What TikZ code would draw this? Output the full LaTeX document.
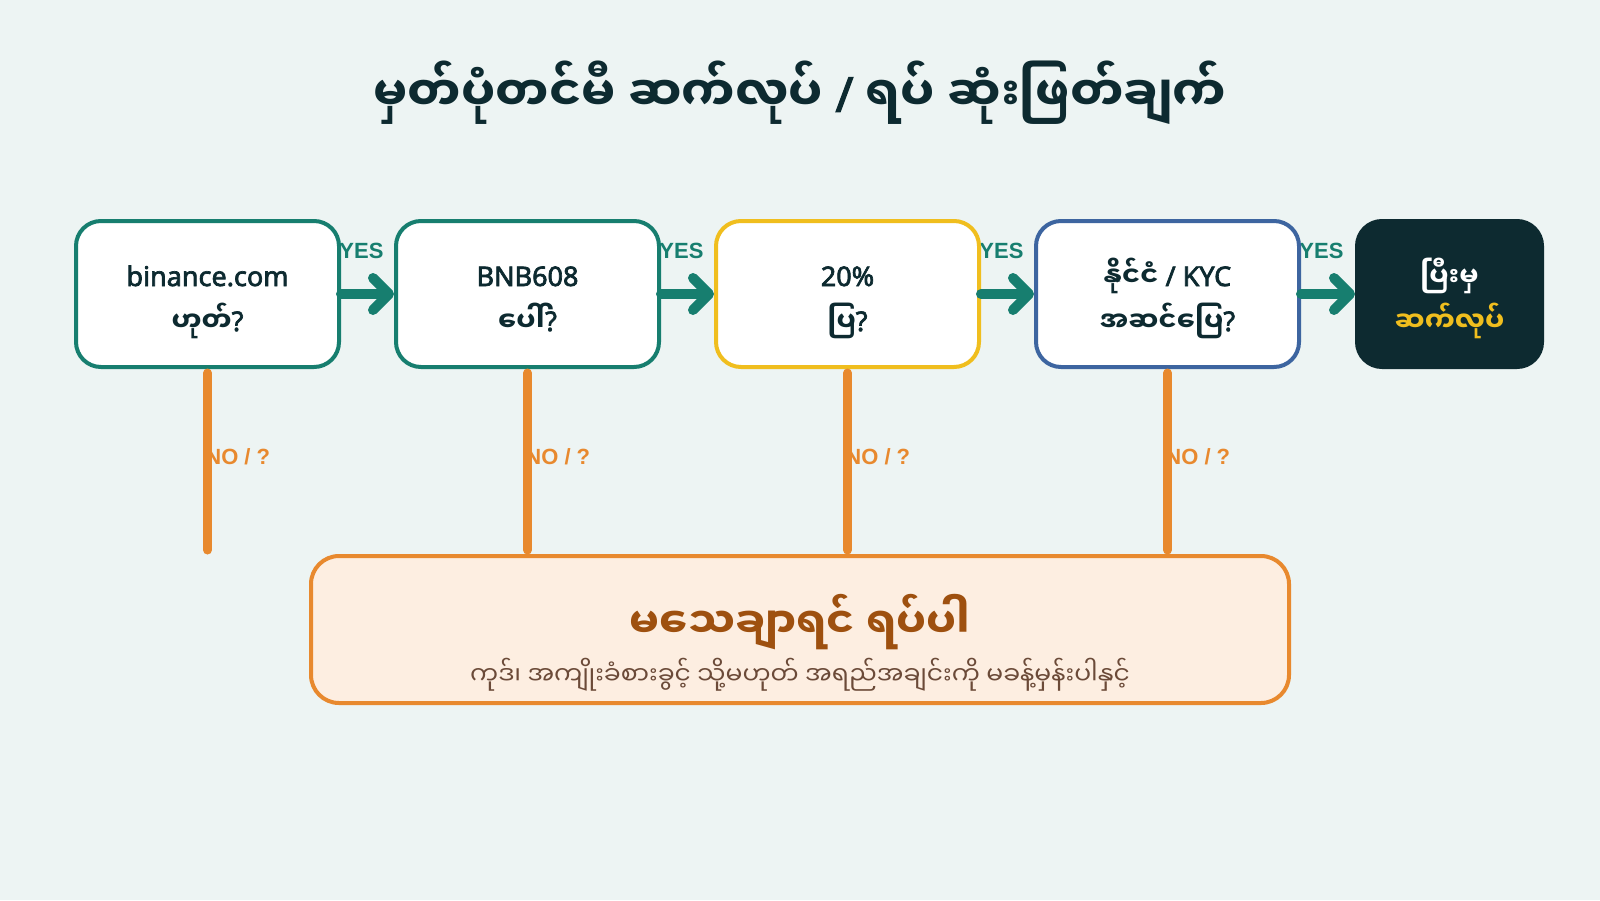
\documentclass[tikz,border=0pt]{standalone}
\usepackage{fontspec}
\setmainfont{Noto Sans}[BoldFont={Noto Sans}, BoldFeatures={FakeBold=2.5}]
\newfontfamily\mmfont[Script=Myanmar]{Noto Sans Myanmar UI}
\newfontfamily\tagfont{Liberation Sans}
\usetikzlibrary{arrows.meta}
\definecolor{pagebg}{HTML}{EDF4F3}
\definecolor{inkdark}{HTML}{0D2A30}
\definecolor{stepteal}{HTML}{177E6F}
\definecolor{stepyellow}{HTML}{F0BE1E}
\definecolor{stepblue}{HTML}{3D65A0}
\definecolor{stoporange}{HTML}{E8892E}
\definecolor{stoppeach}{HTML}{FDEEE1}
\definecolor{stopbrown}{HTML}{9E500F}
\definecolor{subbrown}{HTML}{6B4A38}

\begin{document}
\begin{tikzpicture}[
        x=0.5pt, y=-0.5pt,
        heading/.style={
            font=\mmfont\bfseries\fontsize{24}{30}\selectfont,
            text=inkdark,
        },
        stepbox/.style={
            rectangle,
            rounded corners=12.5pt,
            draw,
            line width=2pt,
            fill=white,
            minimum width=131.5pt,
            minimum height=73pt,
        },
        steptext/.style={
            text height=10pt,
            text depth=4pt,
            text=inkdark,
            font=\bfseries\fontsize{13.5}{16}\selectfont,
        },
        steptop/.style={
            steptext,
            yshift=7pt,
        },
        stepbot/.style={
            steptext,
            yshift=-15.5pt,
        },
        donebox/.style={
            stepbox,
            draw=inkdark,
            fill=inkdark,
            minimum width=92.5pt,
        },
        stopbox/.style={
            rectangle,
            rounded corners=14pt,
            draw=stoporange,
            line width=2pt,
            fill=stoppeach,
            minimum width=489pt,
            minimum height=73.5pt,
        },
        yestag/.style={
            anchor=west,
            inner sep=0pt,
            text=stepteal,
            font=\tagfont\bfseries\fontsize{11}{13}\selectfont
        },
        notag/.style={
            yestag,
            text=stoporange,
        },
        yesarrow/.style={
            -{Straight Barb[round,length=8pt,width=16pt]},
            stepteal,
            line width=5pt,
            line cap=round,
        },
        noline/.style={
            stoporange,
            line width=4.5pt,
            line cap=round,
            shorten <=2pt,
            shorten >=2pt,
        },
    ]

    % Page
    \fill [pagebg] (0,0) rectangle (1600,900);
    \useasboundingbox (0,0) rectangle (1600,900);

    % Title
    \node [heading] (title) at (800,93) {မှတ်ပုံတင်မီ ဆက်လုပ် {\normalfont\bfseries /} ရပ် ဆုံးဖြတ်ချက်};

    % Tags, drawn first so that boxes and lines cover their edges
    \foreach \x in {339,659,979,1299}
        \node [yestag] at (\x,251) {YES};
    \foreach \x in {205,525,845,1165}
        \node [notag] at (\x,457) {NO / ?};

    % Checks named check#
    \node [stepbox, draw=stepteal, label={[steptop]center:binance.com}, label={[stepbot]center:{\mmfont ဟုတ်}?}] (check1) at (207.5,294) {};
    \node [stepbox, draw=stepteal, label={[steptop]center:BNB608}, label={[stepbot]center:{\mmfont ပေါ်}?}] (check2) at (527.5,294) {};
    \node [stepbox, draw=stepyellow, label={[steptop]center:20\%}, label={[stepbot]center:{\mmfont ပြ}?}] (check3) at (847.5,294) {};
    \node [stepbox, draw=stepblue, label={[steptop]center:{\mmfont နိုင်ငံ} / KYC}, label={[stepbot]center:{\mmfont အဆင်ပြေ}?}] (check4) at (1167.5,294) {};
    \node [donebox, label={[steptop, text=white]center:\mmfont ပြီးမှ}, label={[stepbot, text=stepyellow]center:\mmfont ဆက်လုပ်}] (done) at (1449.5,294) {};

    % Stop box
    \node [stopbox] (stop) at (800,629.5) {};
    \node [font=\mmfont\bfseries\fontsize{21}{26}\selectfont, text=stopbrown] (stoptitle) at (800,622) {မသေချာရင် ရပ်ပါ};
    \node [font=\mmfont\fontsize{12.5}{16}\selectfont, text=subbrown] (stopnote) at (800,675) {ကုဒ်၊ အကျိုးခံစားခွင့် သို့မဟုတ် အရည်အချင်းကို မခန့်မှန်းပါနှင့်};

    % NO lines
    \foreach \n in {1,...,4}
        \draw [noline] (check\n.south) -- (check\n.south |- stop.north);

    % YES arrows
    \draw [yesarrow] (check1.east) -- (check2.west);
    \draw [yesarrow] (check2.east) -- (check3.west);
    \draw [yesarrow] (check3.east) -- (check4.west);
    \draw [yesarrow] (check4.east) -- (done.west);

\end{tikzpicture}
\end{document}
